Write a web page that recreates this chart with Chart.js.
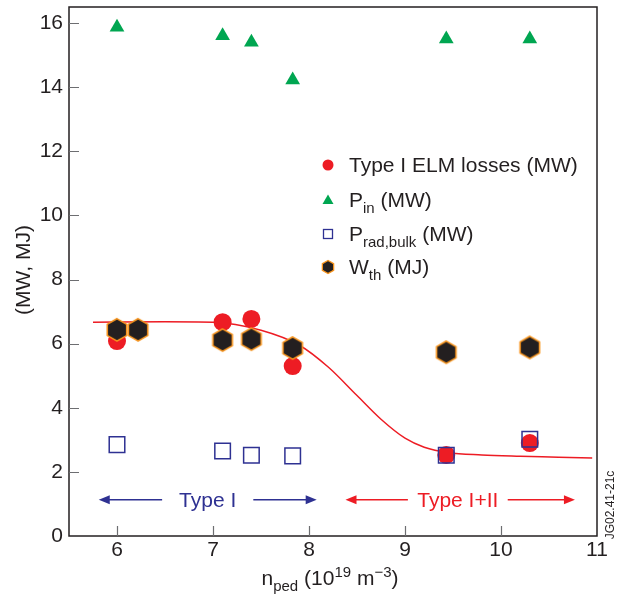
<!DOCTYPE html>
<html>
<head>
<meta charset="utf-8">
<script src="https://cdn.jsdelivr.net/npm/chart.js@4.4.1/dist/chart.umd.min.js"></script>
<style>
  html, body { margin: 0; padding: 0; background: #fff; }
  #wrap { width: 627px; height: 596px; position: relative; }
</style>
</head>
<body>
<div id="wrap"><canvas id="chart" width="627" height="596"></canvas></div>
<script>
// ---- data ----
const shotX = [6.0, 7.1, 7.4, 7.83, 9.43, 10.3];
const elmLosses = [6.08, 6.67, 6.77, 5.3, 2.53, 2.9];
const pIn = [15.87, 15.6, 15.4, 14.22, 15.5, 15.5];
const pRadBulk = [2.85, 2.65, 2.52, 2.5, 2.52, 3.02];
const wthX = [6.0, 6.22, 7.1, 7.4, 7.83, 9.43, 10.3];
const wTh = [6.43, 6.43, 6.11, 6.14, 5.86, 5.73, 5.88];
const fitX = [5.75, 6.5, 7.0, 7.5, 7.9, 8.2, 8.5, 8.75, 9.0, 9.2, 9.45, 9.8, 10.2, 10.6, 10.95];
const fitY = [6.67, 6.68, 6.67, 6.42, 5.95, 5.27, 4.38, 3.64, 3.05, 2.77, 2.6, 2.53, 2.49, 2.46, 2.43];
const xTicks = [6, 7, 8, 9, 10, 11];
const yTicks = [0, 2, 4, 6, 8, 10, 12, 14, 16];

// regime arrows: [start, gapStart, gapEnd, end]
const typeIArrow = [5.81, 6.47, 7.42, 8.08];
const typeIIArrow = [8.38, 9.03, 10.07, 10.77];
const arrowY = 1.13;

const FONT = '"Liberation Sans", Arial, Helvetica, sans-serif';
const INK = '#231f20';
const RED = '#ed1c24';
const GREEN = '#00a651';
const BLUE = '#2e3192';
const ORANGE = '#f7941d';

function toPts(xs, ys) {
    return xs.map((x, i) => ({ x: x, y: ys[i] }));
}

// hexagon marker (point up)
function hexPath(ctx, cx, cy, r) {
    ctx.beginPath();
    for (let i = 0; i < 6; i++) {
        const a = Math.PI / 2 + i * Math.PI / 3;
        const px = cx + r * Math.cos(a);
        const py = cy - r * Math.sin(a);
        if (i === 0) ctx.moveTo(px, py); else ctx.lineTo(px, py);
    }
    ctx.closePath();
}
const hexImg = document.createElement('canvas');
hexImg.width = 26; hexImg.height = 26;
(function () {
    const c = hexImg.getContext('2d');
    hexPath(c, 13, 13, 11.2);
    c.fillStyle = INK;
    c.fill();
    c.lineWidth = 1.6;
    c.strokeStyle = ORANGE;
    c.stroke();
})();

// text runs with sub/superscripts
function runsWidth(ctx, runs) {
    let w = 0;
    runs.forEach(r => {
        ctx.font = r.size + 'px ' + FONT;
        w += ctx.measureText(r.t).width;
    });
    return w;
}
function drawRuns(ctx, runs, x, y) {
    ctx.textAlign = 'left';
    ctx.textBaseline = 'alphabetic';
    runs.forEach(r => {
        ctx.font = r.size + 'px ' + FONT;
        ctx.fillText(r.t, x, y + (r.dy || 0));
        x += ctx.measureText(r.t).width;
    });
}

function arrowHead(ctx, x, y, dir, color) {
    ctx.beginPath();
    ctx.moveTo(x, y);
    ctx.lineTo(x - dir * 11, y - 4.5);
    ctx.lineTo(x - dir * 11, y + 4.5);
    ctx.closePath();
    ctx.fillStyle = color;
    ctx.fill();
}

const decorPlugin = {
    id: 'decor',
    afterDraw(chart) {
        const ctx = chart.ctx;
        const a = chart.chartArea;
        const xs = chart.scales.x;
        const ys = chart.scales.y;
        ctx.save();

        // frame
        ctx.strokeStyle = INK;
        ctx.lineWidth = 1.5;
        ctx.strokeRect(a.left, a.top, a.right - a.left, a.bottom - a.top);

        // inner tick marks
        ctx.strokeStyle = '#6d6e71';
        ctx.lineWidth = 1.2;
        ctx.beginPath();
        xTicks.slice(0, -1).forEach(v => {
            const px = Math.round(xs.getPixelForValue(v)) + 0.5;
            ctx.moveTo(px, a.bottom);
            ctx.lineTo(px, a.bottom - 10);
        });
        yTicks.slice(1).forEach(v => {
            const py = Math.round(ys.getPixelForValue(v)) + 0.5;
            ctx.moveTo(a.left, py);
            ctx.lineTo(a.left + 10, py);
        });
        ctx.stroke();

        // regime arrows
        const ay = ys.getPixelForValue(arrowY);
        [[typeIArrow, BLUE, 'Type I'], [typeIIArrow, RED, 'Type I+II']].forEach(([arr, col, label]) => {
            const p = arr.map(v => xs.getPixelForValue(v));
            ctx.strokeStyle = col;
            ctx.lineWidth = 1.5;
            ctx.beginPath();
            ctx.moveTo(p[0] + 6, ay); ctx.lineTo(p[1], ay);
            ctx.moveTo(p[2], ay); ctx.lineTo(p[3] - 6, ay);
            ctx.stroke();
            arrowHead(ctx, p[0], ay, -1, col);
            arrowHead(ctx, p[3], ay, 1, col);
            ctx.fillStyle = col;
            ctx.font = '21px ' + FONT;
            ctx.textAlign = 'center';
            ctx.textBaseline = 'middle';
            ctx.fillText(label, (p[1] + p[2]) / 2, ay + 1);
        });

        // legend
        const lx = 328, tx = 349;
        const rows = [165, 200, 234, 267];
        ctx.beginPath();
        ctx.arc(lx, rows[0], 5.5, 0, Math.PI * 2);
        ctx.fillStyle = RED; ctx.fill();
        ctx.beginPath();
        ctx.moveTo(lx, rows[1] - 5.5);
        ctx.lineTo(lx + 5.5, rows[1] + 4);
        ctx.lineTo(lx - 5.5, rows[1] + 4);
        ctx.closePath();
        ctx.fillStyle = GREEN; ctx.fill();
        ctx.strokeStyle = BLUE; ctx.lineWidth = 1.3;
        ctx.strokeRect(lx - 4.5, rows[2] - 4.5, 9, 9);
        hexPath(ctx, lx, rows[3], 6.5);
        ctx.fillStyle = INK; ctx.fill();
        ctx.strokeStyle = ORANGE; ctx.lineWidth = 1.3; ctx.stroke();

        ctx.fillStyle = INK;
        drawRuns(ctx, [{ t: 'Type I ELM losses (MW)', size: 21 }], tx, rows[0] + 7);
        drawRuns(ctx, [{ t: 'P', size: 21 }, { t: 'in', size: 15, dy: 6 }, { t: ' (MW)', size: 21 }], tx, rows[1] + 7);
        drawRuns(ctx, [{ t: 'P', size: 21 }, { t: 'rad,bulk', size: 15, dy: 6 }, { t: ' (MW)', size: 21 }], tx, rows[2] + 7);
        drawRuns(ctx, [{ t: 'W', size: 21 }, { t: 'th', size: 15, dy: 6 }, { t: ' (MJ)', size: 21 }], tx, rows[3] + 7);

        // x axis title
        const xt = [
            { t: 'n', size: 21 }, { t: 'ped', size: 15, dy: 6 },
            { t: ' (10', size: 21 }, { t: '19', size: 15, dy: -8 },
            { t: ' m', size: 21 }, { t: '\u22123', size: 15, dy: -8 },
            { t: ')', size: 21 }
        ];
        const w = runsWidth(ctx, xt);
        drawRuns(ctx, xt, 330 - w / 2, 585);

        // y axis title
        ctx.save();
        ctx.translate(24, 270);
        ctx.rotate(-Math.PI / 2);
        ctx.font = '21px ' + FONT;
        ctx.textAlign = 'center';
        ctx.textBaseline = 'middle';
        ctx.fillText('(MW, MJ)', 0, 0);
        ctx.restore();

        // figure id
        ctx.save();
        ctx.translate(611, 505);
        ctx.rotate(-Math.PI / 2);
        ctx.font = '12px ' + FONT;
        ctx.textAlign = 'center';
        ctx.textBaseline = 'middle';
        ctx.fillText('JG02.41-21c', 0, 0);
        ctx.restore();

        ctx.restore();
    }
};

new Chart(document.getElementById('chart'), {
    type: 'scatter',
    data: {
        datasets: [
            {
                label: 'P_in (MW)',
                data: toPts(shotX, pIn),
                pointStyle: 'triangle',
                pointRadius: 8.5,
                backgroundColor: GREEN,
                borderColor: GREEN,
                borderWidth: 0,
                order: 1
            },
            {
                label: 'P_rad,bulk (MW)',
                data: toPts(shotX, pRadBulk),
                pointStyle: 'rect',
                pointRadius: 11,
                backgroundColor: 'rgba(0,0,0,0)',
                borderColor: BLUE,
                borderWidth: 1.5,
                order: 2
            },
            {
                label: 'W_th (MJ)',
                data: toPts(wthX, wTh),
                pointStyle: hexImg,
                order: 3
            },
            {
                label: 'Type I ELM losses (MW)',
                data: toPts(shotX, elmLosses),
                pointStyle: 'circle',
                pointRadius: 9,
                backgroundColor: RED,
                borderColor: RED,
                borderWidth: 0,
                order: 4
            },
            {
                type: 'line',
                label: 'fit',
                data: toPts(fitX, fitY),
                borderColor: RED,
                borderWidth: 1.5,
                pointRadius: 0,
                fill: false,
                cubicInterpolationMode: 'monotone',
                order: 5
            }
        ]
    },
    options: {
        responsive: false,
        animation: false,
        layout: { autoPadding: false, padding: { top: 7, right: 30, left: 0, bottom: 0 } },
        plugins: {
            legend: { display: false },
            tooltip: { enabled: false }
        },
        scales: {
            x: {
                type: 'linear',
                min: 5.5,
                max: 11,
                afterFit(scale) { scale.height = 60; },
                afterBuildTicks(scale) { scale.ticks = xTicks.map(v => ({ value: v })); },
                grid: { display: false, drawTicks: false },
                border: { display: false },
                ticks: {
                    color: INK,
                    padding: 2,
                    maxRotation: 0,
                    font: { family: FONT, size: 21 }
                }
            },
            y: {
                type: 'linear',
                min: 0,
                max: 16.5,
                afterFit(scale) { scale.width = 69; scale.paddingTop = 0; scale.paddingBottom = 0; },
                afterBuildTicks(scale) { scale.ticks = yTicks.map(v => ({ value: v })); },
                grid: { display: false, drawTicks: false },
                border: { display: false },
                ticks: {
                    color: INK,
                    padding: 6,
                    font: { family: FONT, size: 21 }
                }
            }
        }
    },
    plugins: [decorPlugin]
});
</script>
</body>
</html>
